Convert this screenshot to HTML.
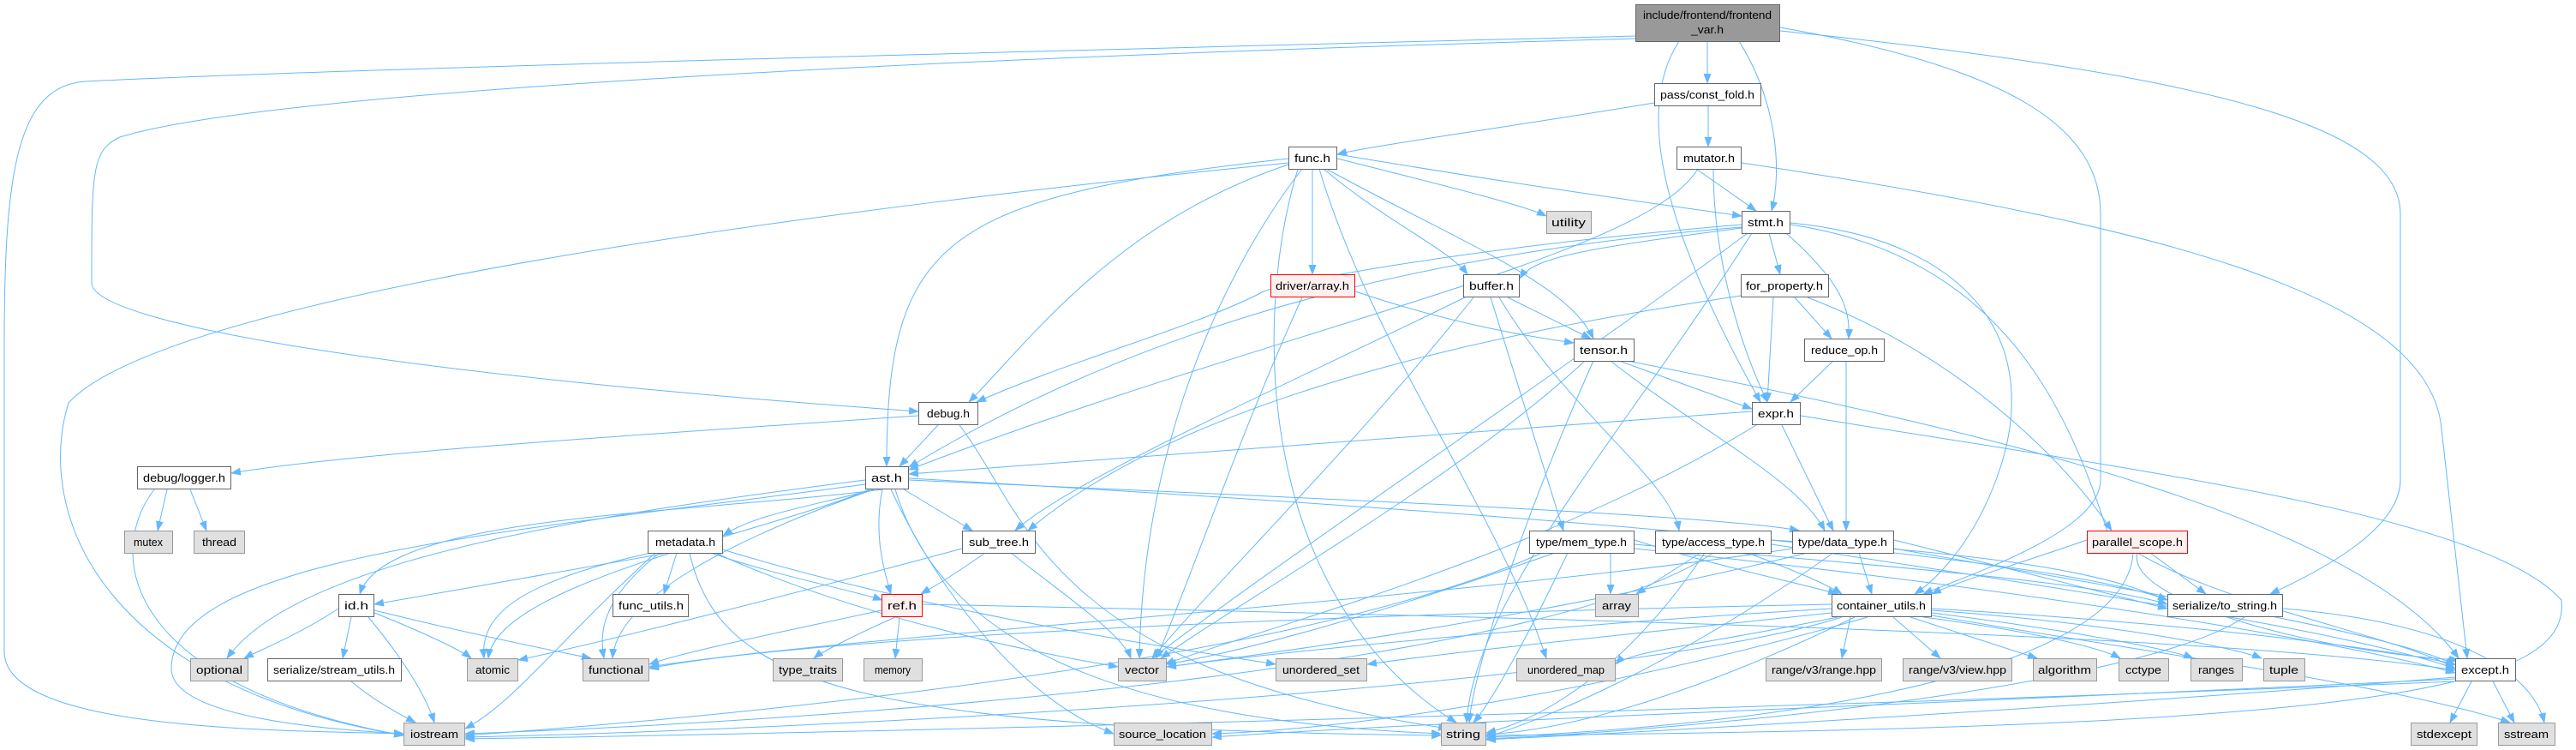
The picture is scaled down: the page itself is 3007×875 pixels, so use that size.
<!DOCTYPE html>
<html><head><meta charset="utf-8"><style>
html,body{margin:0;padding:0;background:#fff;}
svg{display:block;}
text{font-family:"Liberation Sans",sans-serif;font-size:13px;fill:#000;}
.e path{fill:none;stroke:#63b8ff;stroke-width:1;}
.n rect{fill:#fff;stroke:#666;stroke-width:1;}
.x rect{fill:#e0e0e0;stroke:#999;stroke-width:1;}
.r rect{fill:#fff0f0;stroke:#f00;stroke-width:1;}
</style></head><body>
<svg width="3007" height="875" viewBox="0 0 3007 875" xmlns="http://www.w3.org/2000/svg">
<defs><marker id="a" markerWidth="12" markerHeight="9" refX="11" refY="4.5" orient="auto" markerUnits="userSpaceOnUse"><path d="M0,0 L12,4.5 L0,9 z" fill="#63b8ff"/></marker></defs>
<g class="e" marker-end="url(#a)">
<path d="M1909,42 C1200,60 400,80 100,95 C20,100 5,200 5,400 L5,760 C5,850 300,852 471,856"/>
<path d="M1909,45 C1000,70 300,110 140,160 C107,175 107,200 107,330 C107,380 500,440 1072,480"/>
<path d="M1993,48 L1993,97"/>
<path d="M2030,48 C2075,120 2080,200 2068,246"/>
<path d="M1960,48 C1900,140 1960,300 2055,469"/>
<path d="M2078,32 C2350,80 2452,150 2452,250 L2452,560 C2452,620 2300,670 2245,693"/>
<path d="M2078,36 C2600,90 2802,150 2802,250 L2802,560 C2802,620 2700,670 2650,693"/>
<path d="M1931,120 C1750,150 1600,170 1561,180"/>
<path d="M1994,123 L1994,171"/>
<path d="M1980,197 L2050,246"/>
<path d="M2000,197 C2000,300 2030,400 2063,469"/>
<path d="M2033,190 C2500,260 2835,340 2850,500 L2880,768"/>
<path d="M1982,197 C1920,300 1500,380 1061,548"/>
<path d="M1504,190 C1000,240 200,340 80,470 C40,600 120,800 471,858"/>
<path d="M1504,185 C1100,230 1035,280 1035,544"/>
<path d="M1561,185 C1700,220 1780,240 1805,252"/>
<path d="M1561,180 C1800,220 1950,240 2033,252"/>
<path d="M1532,197 L1532,320"/>
<path d="M1545,197 C1620,260 1690,290 1713,320"/>
<path d="M1548,197 C1700,280 1830,330 1860,395"/>
<path d="M1520,197 C1440,300 1335,500 1330,768"/>
<path d="M1515,197 C1460,380 1470,700 1700,843"/>
<path d="M1540,197 C1600,400 1750,600 1805,768"/>
<path d="M1504,192 C1300,260 1200,400 1131,469"/>
<path d="M2065,272 L2078,320"/>
<path d="M2085,272 C2150,330 2160,360 2158,395"/>
<path d="M2033,262 C1700,290 1500,330 1475,340 C1400,380 1250,420 1140,469"/>
<path d="M2033,265 C1600,300 1300,400 1061,545"/>
<path d="M2033,266 C1850,290 1790,300 1774,325"/>
<path d="M2040,272 C1800,450 1500,650 1345,768"/>
<path d="M2045,272 C1900,500 1720,700 1712,843"/>
<path d="M2090,260 C2300,280 2390,400 2330,560 C2300,640 2255,680 2235,693"/>
<path d="M2090,262 C2350,300 2420,500 2460,620 C2550,700 2800,740 2866,780"/>
<path d="M2070,347 L2063,469"/>
<path d="M2095,347 L2138,395"/>
<path d="M2110,347 C2300,420 2420,550 2465,619"/>
<path d="M2032,345 C1800,380 1400,450 1200,619"/>
<path d="M2140,421 L2090,469"/>
<path d="M2155,421 L2155,619"/>
<path d="M1760,347 L1857,395"/>
<path d="M1710,347 C1500,450 1250,560 1185,619"/>
<path d="M1740,347 L1825,619"/>
<path d="M1750,347 C1830,480 1950,560 1960,619"/>
<path d="M1720,347 C1600,500 1400,700 1345,768"/>
<path d="M1582,340 C1700,380 1800,395 1837,400"/>
<path d="M1520,347 C1450,500 1380,700 1350,768"/>
<path d="M1890,421 L2045,477"/>
<path d="M1880,421 C1980,500 2100,560 2130,619"/>
<path d="M1850,421 C1700,560 1450,700 1355,768"/>
<path d="M1860,421 C1780,600 1720,780 1715,843"/>
<path d="M1900,421 C2300,500 2750,600 2870,768"/>
<path d="M2045,480 C1600,510 1200,540 1061,553"/>
<path d="M2080,496 L2140,619"/>
<path d="M2050,496 C1800,650 1450,740 1360,775"/>
<path d="M2102,485 C2500,550 2900,600 2990,700 C3000,800 2800,850 1735,858"/>
<path d="M1095,496 L1050,544"/>
<path d="M1072,485 C700,510 400,530 270,552"/>
<path d="M1120,496 C1200,600 1220,780 1690,850"/>
<path d="M195,571 L184,619"/>
<path d="M222,571 L241,619"/>
<path d="M180,571 C120,650 150,800 471,858"/>
<path d="M1030,571 C800,600 450,600 420,693"/>
<path d="M1020,571 C950,590 880,600 844,625"/>
<path d="M1010,560 C700,600 350,650 265,768"/>
<path d="M1010,565 C600,620 200,650 200,780 C200,840 400,852 471,856"/>
<path d="M1015,571 C900,620 580,680 570,768"/>
<path d="M1020,571 C850,630 720,700 715,768"/>
<path d="M1055,571 L1135,619"/>
<path d="M1030,571 C1020,620 1030,660 1040,693"/>
<path d="M1045,571 C1100,750 1300,840 1682,856"/>
<path d="M1040,571 C1100,700 1200,820 1300,856"/>
<path d="M1061,560 C1500,580 2000,600 2100,619"/>
<path d="M1061,558 C1800,600 2400,650 2530,700"/>
<path d="M780,645 L437,705"/>
<path d="M790,645 L775,693"/>
<path d="M760,645 C600,680 560,720 565,768"/>
<path d="M770,645 C700,700 700,740 705,768"/>
<path d="M765,645 C650,750 600,820 543,850"/>
<path d="M830,645 C900,670 1000,690 1030,700"/>
<path d="M835,645 C1000,720 1200,760 1305,778"/>
<path d="M840,640 C1100,720 1400,760 1489,775"/>
<path d="M805,645 C840,800 1000,850 1682,858"/>
<path d="M395,710 C350,740 300,760 285,768"/>
<path d="M410,720 L400,768"/>
<path d="M430,720 C480,780 500,820 507,843"/>
<path d="M437,715 C500,740 540,760 550,768"/>
<path d="M437,712 C550,740 650,760 690,768"/>
<path d="M410,795 C440,820 470,835 485,843"/>
<path d="M1150,645 C1100,680 1080,690 1075,693"/>
<path d="M1180,645 C1250,700 1310,740 1320,768"/>
<path d="M1123,640 C900,700 700,750 605,770"/>
<path d="M1050,720 L1045,768"/>
<path d="M1045,720 C1000,740 960,760 950,768"/>
<path d="M1029,712 C900,740 800,760 758,775"/>
<path d="M1077,705 C1800,720 2600,740 2866,782"/>
<path d="M1880,645 L1880,693"/>
<path d="M1830,645 C1780,750 1740,820 1720,843"/>
<path d="M1800,645 C1500,780 800,840 543,858"/>
<path d="M1908,630 C2000,660 2100,680 2145,693"/>
<path d="M1908,635 C2200,660 2450,680 2530,705"/>
<path d="M1908,640 C2300,680 2700,740 2866,785"/>
<path d="M1815,645 C1600,720 1450,760 1362,775"/>
<path d="M1985,645 L1910,693"/>
<path d="M2068,630 C2400,650 2480,680 2530,700"/>
<path d="M2040,645 C2080,660 2130,680 2150,693"/>
<path d="M2068,635 C2500,700 2750,740 2866,780"/>
<path d="M1990,645 C1900,780 1800,840 1735,855"/>
<path d="M2000,645 C1800,780 1000,840 543,856"/>
<path d="M2170,645 L2185,693"/>
<path d="M2211,630 L2530,710"/>
<path d="M2211,640 C2500,690 2800,740 2866,776"/>
<path d="M2140,645 C1950,780 1800,840 1735,860"/>
<path d="M2092,640 C1700,700 1000,740 758,778"/>
<path d="M2110,645 C1800,720 1500,760 1362,778"/>
<path d="M2436,630 C2350,660 2280,680 2255,693"/>
<path d="M2510,645 L2575,693"/>
<path d="M2495,645 C2480,700 2700,760 2870,770"/>
<path d="M2490,645 C2480,800 2000,850 1735,860"/>
<path d="M2160,720 L2150,768"/>
<path d="M2210,720 L2265,768"/>
<path d="M2230,720 L2378,768"/>
<path d="M2245,720 C2400,740 2460,760 2475,768"/>
<path d="M2255,715 C2450,740 2540,760 2560,768"/>
<path d="M2255,712 C2500,730 2620,760 2640,768"/>
<path d="M2255,710 C2600,730 2800,760 2866,775"/>
<path d="M2138,710 C1800,730 1500,760 1362,778"/>
<path d="M2138,705 C1400,720 900,750 758,780"/>
<path d="M2138,715 C1900,740 1700,760 1596,775"/>
<path d="M2145,720 C2000,750 1900,760 1886,775"/>
<path d="M2150,720 C1900,800 1000,850 543,860"/>
<path d="M2165,720 C2000,800 1850,850 1735,857"/>
<path d="M2180,720 C1900,800 1600,850 1415,856"/>
<path d="M2255,718 C2500,760 2800,800 2930,843"/>
<path d="M2665,710 C2900,730 2960,800 2970,843"/>
<path d="M2620,720 C2500,800 2000,850 1735,862"/>
<path d="M2885,795 L2860,843"/>
<path d="M2910,795 L2935,843"/>
<path d="M2866,790 C2500,820 2000,850 1735,863"/>
<path d="M2866,792 C2300,820 1700,840 1415,860"/>
<path d="M2866,795 C2000,830 1000,855 543,862"/>
</g>
<g>
<g><rect x="1909.5" y="5.5" width="168" height="43" fill="#999" stroke="#666"/><text x="1993" y="22" text-anchor="middle" textLength="150" lengthAdjust="spacingAndGlyphs">include/frontend/frontend</text><text x="1993" y="39" text-anchor="middle" textLength="38" lengthAdjust="spacingAndGlyphs">_var.h</text></g>
</g>
<g class="n">
<rect x="1931.5" y="97.5" width="124" height="26"/><text x="1993" y="115" text-anchor="middle" textLength="110" lengthAdjust="spacingAndGlyphs">pass/const_fold.h</text>
<rect x="1957.5" y="171.5" width="75" height="26"/><text x="1995" y="189" text-anchor="middle" textLength="60" lengthAdjust="spacingAndGlyphs">mutator.h</text>
<rect x="1504.5" y="171.5" width="56" height="26"/><text x="1532" y="189" text-anchor="middle" textLength="42" lengthAdjust="spacingAndGlyphs">func.h</text>
<rect x="2033.5" y="246.5" width="56" height="26"/><text x="2061" y="264" text-anchor="middle" textLength="42" lengthAdjust="spacingAndGlyphs">stmt.h</text>
<rect x="1708.5" y="320.5" width="65" height="26"/><text x="1741" y="338" text-anchor="middle" textLength="52" lengthAdjust="spacingAndGlyphs">buffer.h</text>
<rect x="2032.5" y="320.5" width="102" height="26"/><text x="2083" y="338" text-anchor="middle" textLength="90" lengthAdjust="spacingAndGlyphs">for_property.h</text>
<rect x="1837.5" y="395.5" width="70" height="26"/><text x="1872" y="413" text-anchor="middle" textLength="56" lengthAdjust="spacingAndGlyphs">tensor.h</text>
<rect x="2106.5" y="395.5" width="93" height="26"/><text x="2153" y="413" text-anchor="middle" textLength="78" lengthAdjust="spacingAndGlyphs">reduce_op.h</text>
<rect x="1072.5" y="469.5" width="69" height="26"/><text x="1107" y="487" text-anchor="middle" textLength="50" lengthAdjust="spacingAndGlyphs">debug.h</text>
<rect x="2045.5" y="469.5" width="56" height="26"/><text x="2073" y="487" text-anchor="middle" textLength="42" lengthAdjust="spacingAndGlyphs">expr.h</text>
<rect x="160.5" y="544.5" width="109" height="26"/><text x="215" y="562" text-anchor="middle" textLength="96" lengthAdjust="spacingAndGlyphs">debug/logger.h</text>
<rect x="1010.5" y="544.5" width="50" height="26"/><text x="1035" y="562" text-anchor="middle" textLength="36" lengthAdjust="spacingAndGlyphs">ast.h</text>
<rect x="756.5" y="619.5" width="87" height="26"/><text x="800" y="637" text-anchor="middle" textLength="70" lengthAdjust="spacingAndGlyphs">metadata.h</text>
<rect x="1123.5" y="619.5" width="85" height="26"/><text x="1166" y="637" text-anchor="middle" textLength="70" lengthAdjust="spacingAndGlyphs">sub_tree.h</text>
<rect x="1785.5" y="619.5" width="122" height="26"/><text x="1846" y="637" text-anchor="middle" textLength="106" lengthAdjust="spacingAndGlyphs">type/mem_type.h</text>
<rect x="1932.5" y="619.5" width="135" height="26"/><text x="2000" y="637" text-anchor="middle" textLength="120" lengthAdjust="spacingAndGlyphs">type/access_type.h</text>
<rect x="2092.5" y="619.5" width="118" height="26"/><text x="2151" y="637" text-anchor="middle" textLength="104" lengthAdjust="spacingAndGlyphs">type/data_type.h</text>
<rect x="395.5" y="693.5" width="41" height="26"/><text x="416" y="711" text-anchor="middle" textLength="28" lengthAdjust="spacingAndGlyphs">id.h</text>
<rect x="715.5" y="693.5" width="88" height="26"/><text x="760" y="711" text-anchor="middle" textLength="76" lengthAdjust="spacingAndGlyphs">func_utils.h</text>
<rect x="2138.5" y="693.5" width="116" height="26"/><text x="2196" y="711" text-anchor="middle" textLength="104" lengthAdjust="spacingAndGlyphs">container_utils.h</text>
<rect x="2530.5" y="693.5" width="134" height="26"/><text x="2597" y="711" text-anchor="middle" textLength="122" lengthAdjust="spacingAndGlyphs">serialize/to_string.h</text>
<rect x="312.5" y="768.5" width="156" height="26"/><text x="390" y="786" text-anchor="middle" textLength="142" lengthAdjust="spacingAndGlyphs">serialize/stream_utils.h</text>
<rect x="2866.5" y="768.5" width="70" height="26"/><text x="2901" y="786" text-anchor="middle" textLength="56" lengthAdjust="spacingAndGlyphs">except.h</text>
</g>
<g class="r">
<rect x="1483.5" y="320.5" width="98" height="26"/><text x="1532" y="338" text-anchor="middle" textLength="86" lengthAdjust="spacingAndGlyphs">driver/array.h</text>
<rect x="2436.5" y="619.5" width="117" height="26"/><text x="2495" y="637" text-anchor="middle" textLength="106" lengthAdjust="spacingAndGlyphs">parallel_scope.h</text>
<rect x="1029.5" y="693.5" width="47" height="26"/><text x="1053" y="711" text-anchor="middle" textLength="34" lengthAdjust="spacingAndGlyphs">ref.h</text>
</g>
<g class="x">
<rect x="1805.5" y="246.5" width="52" height="26"/><text x="1831" y="264" text-anchor="middle" textLength="40" lengthAdjust="spacingAndGlyphs">utility</text>
<rect x="145.5" y="619.5" width="56" height="26"/><text x="173" y="637" text-anchor="middle" textLength="34" lengthAdjust="spacingAndGlyphs">mutex</text>
<rect x="226.5" y="619.5" width="59" height="26"/><text x="256" y="637" text-anchor="middle" textLength="40" lengthAdjust="spacingAndGlyphs">thread</text>
<rect x="1862.5" y="693.5" width="50" height="26"/><text x="1887" y="711" text-anchor="middle" textLength="34" lengthAdjust="spacingAndGlyphs">array</text>
<rect x="222.5" y="768.5" width="67" height="26"/><text x="256" y="786" text-anchor="middle" textLength="54" lengthAdjust="spacingAndGlyphs">optional</text>
<rect x="545.5" y="768.5" width="59" height="26"/><text x="575" y="786" text-anchor="middle" textLength="40" lengthAdjust="spacingAndGlyphs">atomic</text>
<rect x="680.5" y="768.5" width="77" height="26"/><text x="719" y="786" text-anchor="middle" textLength="64" lengthAdjust="spacingAndGlyphs">functional</text>
<rect x="902.5" y="768.5" width="81" height="26"/><text x="943" y="786" text-anchor="middle" textLength="68" lengthAdjust="spacingAndGlyphs">type_traits</text>
<rect x="1008.5" y="768.5" width="68" height="26"/><text x="1042" y="786" text-anchor="middle" textLength="42" lengthAdjust="spacingAndGlyphs">memory</text>
<rect x="1305.5" y="768.5" width="56" height="26"/><text x="1333" y="786" text-anchor="middle" textLength="40" lengthAdjust="spacingAndGlyphs">vector</text>
<rect x="1489.5" y="768.5" width="106" height="26"/><text x="1542" y="786" text-anchor="middle" textLength="90" lengthAdjust="spacingAndGlyphs">unordered_set</text>
<rect x="1770.5" y="768.5" width="115" height="26"/><text x="1828" y="786" text-anchor="middle" textLength="90" lengthAdjust="spacingAndGlyphs">unordered_map</text>
<rect x="2061.5" y="768.5" width="135" height="26"/><text x="2129" y="786" text-anchor="middle" textLength="122" lengthAdjust="spacingAndGlyphs">range/v3/range.hpp</text>
<rect x="2221.5" y="768.5" width="127" height="26"/><text x="2285" y="786" text-anchor="middle" textLength="114" lengthAdjust="spacingAndGlyphs">range/v3/view.hpp</text>
<rect x="2373.5" y="768.5" width="74" height="26"/><text x="2410" y="786" text-anchor="middle" textLength="62" lengthAdjust="spacingAndGlyphs">algorithm</text>
<rect x="2473.5" y="768.5" width="58" height="26"/><text x="2502" y="786" text-anchor="middle" textLength="42" lengthAdjust="spacingAndGlyphs">cctype</text>
<rect x="2557.5" y="768.5" width="60" height="26"/><text x="2587" y="786" text-anchor="middle" textLength="42" lengthAdjust="spacingAndGlyphs">ranges</text>
<rect x="2642.5" y="768.5" width="48" height="26"/><text x="2666" y="786" text-anchor="middle" textLength="34" lengthAdjust="spacingAndGlyphs">tuple</text>
<rect x="471.5" y="843.5" width="71" height="26"/><text x="507" y="861" text-anchor="middle" textLength="56" lengthAdjust="spacingAndGlyphs">iostream</text>
<rect x="1300.5" y="843.5" width="114" height="26"/><text x="1357" y="861" text-anchor="middle" textLength="102" lengthAdjust="spacingAndGlyphs">source_location</text>
<rect x="1682.5" y="843.5" width="52" height="26"/><text x="1708" y="861" text-anchor="middle" textLength="40" lengthAdjust="spacingAndGlyphs">string</text>
<rect x="2814.5" y="843.5" width="77" height="26"/><text x="2853" y="861" text-anchor="middle" textLength="64" lengthAdjust="spacingAndGlyphs">stdexcept</text>
<rect x="2916.5" y="843.5" width="66" height="26"/><text x="2949" y="861" text-anchor="middle" textLength="52" lengthAdjust="spacingAndGlyphs">sstream</text>
</g>
</svg>
</body></html>
